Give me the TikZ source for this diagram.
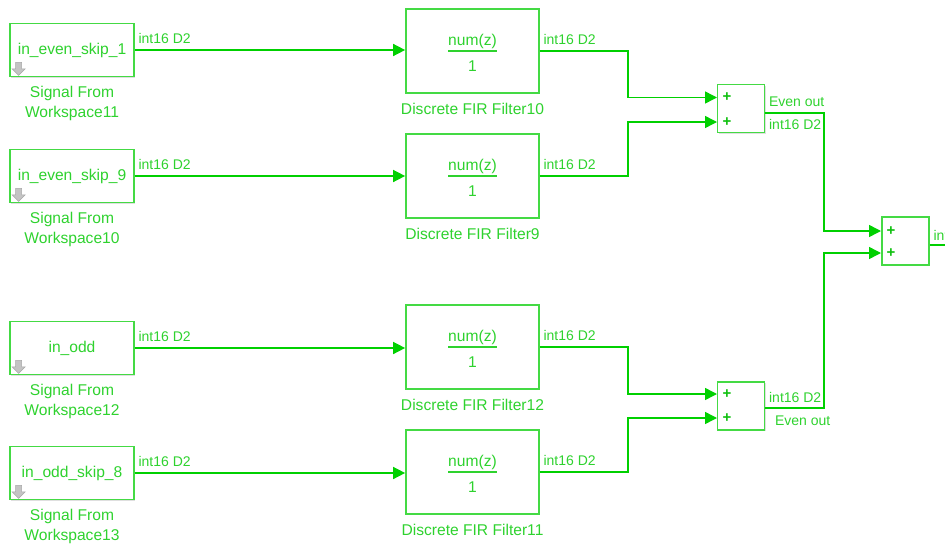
\documentclass[tikz,border=0pt]{standalone}
\usepackage{fontspec}
\setmainfont{Liberation Sans}
\usepackage{xcolor}
\usepackage{tikz}
\usetikzlibrary{arrows.meta,positioning,calc,shadows}
\definecolor{simline}{HTML}{00D000}
\definecolor{simtext}{HTML}{2ED22E}
\definecolor{simbox}{HTML}{44DA44}
\definecolor{simplus}{HTML}{10C010}
\definecolor{simicon}{HTML}{C4C4C4}
\definecolor{simiconedge}{HTML}{A8A8A8}
% workspace arrow icon in the lower left corner of a source block
\newcommand{\wsicon}[1]{%
  \draw[simiconedge,fill=simicon,line width=0.6pt] ($(#1.south west)+(6.5,-15)$) -- ++(6,0) -- ++(0,6.5) -- ++(3.5,0)
    -- ++(-6.5,6.5) -- ++(-6.5,-6.5) -- ++(3.5,0) -- cycle;}

\begin{document}
\begin{tikzpicture}[x=1pt,y=-1pt,font=\fontsize{15.6}{19.5}\selectfont,>={Triangle[length=12pt,width=12pt]},
    blk/.style={draw=simbox,line width=1.7pt,fill=white,text=simtext,
      drop shadow={shadow xshift=1.4pt,shadow yshift=-1.4pt,opacity=0.25}},
    srcbox/.style={blk,minimum width=124pt,minimum height=53pt,inner sep=0pt},
    firbox/.style={blk,minimum width=133pt,minimum height=84pt,inner sep=0pt},
    sumbox/.style={blk,minimum width=47pt,minimum height=48pt,inner sep=0pt},
    caption/.style={text=simtext,align=center,below,inner sep=3pt,yshift=-6pt},
    lbl/.style={text=simtext,font=\fontsize{14}{16}\selectfont,inner xsep=3pt,inner ysep=6pt},
    sig/.style={draw=simline,line width=1.5pt},
    plus/.style={text=simplus,font=\fontsize{15}{15}\bfseries,inner sep=0pt}]
    \clip (0,0) rectangle (945,544);

    % sources
    \node[srcbox] (s11) at (72,50) {in\_even\_skip\_1};
    \node[srcbox] (s10) at (72,176) {in\_even\_skip\_9};
    \node[srcbox] (s12) at (72,348) {in\_odd};
    \node[srcbox] (s13) at (72,473) {in\_odd\_skip\_8};
    \node[caption] at (s11.south) {Signal From\\Workspace11};
    \node[caption] at (s10.south) {Signal From\\Workspace10};
    \node[caption] at (s12.south) {Signal From\\Workspace12};
    \node[caption] at (s13.south) {Signal From\\Workspace13};
    \wsicon{s11}
    \wsicon{s10}
    \wsicon{s12}
    \wsicon{s13}

    % filters
    \node[firbox] (f10) at (472.5,51) {};
    \node[firbox] (f9) at (472.5,176) {};
    \node[firbox] (f12) at (472.5,347) {};
    \node[firbox] (f11) at (472.5,472) {};
    \foreach \f in {f10,f9,f12,f11}{
      \node[text=simtext] at ($(\f)+(0,-10)$) {num(z)};
      \draw[simtext,line width=1.3pt] ($(\f)+(-24.5,0)$) -- ($(\f)+(24.5,0)$);
      \node[text=simtext] at ($(\f)+(0,15)$) {1};
    }
    \node[caption] at (f10.south) {Discrete FIR Filter10};
    \node[caption] at (f9.south) {Discrete FIR Filter9};
    \node[caption] at (f12.south) {Discrete FIR Filter12};
    \node[caption] at (f11.south) {Discrete FIR Filter11};

    % sums
    \node[sumbox] (sum1) at (741,108.5) {};
    \node[sumbox] (sum2) at (741,406) {};
    \node[sumbox] (sum3) at (905.5,241) {};
    \node[plus] at (727,97.5) {+};
    \node[plus] at (727,122) {+};
    \node[plus] at (727,394) {+};
    \node[plus] at (727,418) {+};
    \node[plus] at (891,231) {+};
    \node[plus] at (891,253) {+};
    \coordinate (sum1a) at (717,97.5);
    \coordinate (sum1b) at (717,122);
    \coordinate (sum2a) at (717,394);
    \coordinate (sum2b) at (717,418);
    \coordinate (sum3a) at (881,231);
    \coordinate (sum3b) at (881,253);
    \coordinate (out) at (960,245);

    % signals
    \draw[sig,->] (s11.east) node[lbl,above right]{int16 D2} -- (s11.east -| f10.west);
    \draw[sig,->] (s10.east) node[lbl,above right]{int16 D2} -- (s10.east -| f9.west);
    \draw[sig,->] (s12.east) node[lbl,above right]{int16 D2} -- (s12.east -| f12.west);
    \draw[sig,->] (s13.east) node[lbl,above right]{int16 D2} -- (s13.east -| f11.west);
    \draw[sig,->] (f10.east) node[lbl,above right]{int16 D2} -- (628,51) |- (sum1a);
    \draw[sig,->] (f9.east) node[lbl,above right]{int16 D2} -- (628,176) |- (sum1b);
    \draw[sig,->] (f12.east) node[lbl,above right]{int16 D2} -- (628,347) |- (sum2a);
    \draw[sig,->] (f11.east) node[lbl,above right]{int16 D2} -- (628,472) |- (sum2b);
    \draw[sig,->] ($(sum1.east)+(0,4.5)$) node[lbl,above right]{Even out} node[lbl,below right]{int16 D2}
      -- (824,113) |- (sum3a);
    \draw[sig,->] ($(sum2.east)+(0,2)$) node[lbl,above right,inner ysep=5pt]{int16 D2}
      node[lbl,below right,inner ysep=7pt,xshift=6pt]{Even out}
      -- (824,408) |- (sum3b);
    \draw[sig] ($(sum3.east)+(0,4)$) node[lbl,above right,inner ysep=4pt]{int16 D2} -- (out);
\end{tikzpicture}
\end{document}
